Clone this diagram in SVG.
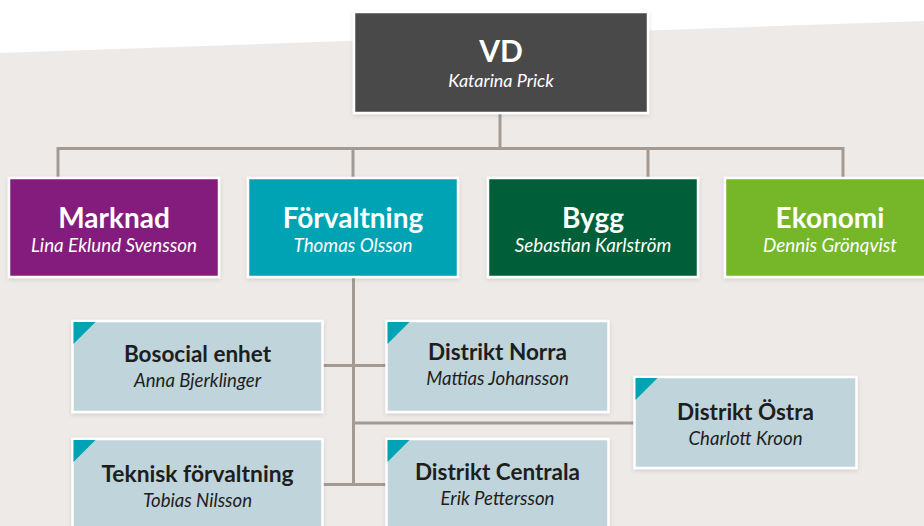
<svg xmlns="http://www.w3.org/2000/svg" width="924" height="526" viewBox="0 0 924 526">
  <style>
    .title { font-family: Lato, "Liberation Sans", sans-serif; font-weight: 700; text-anchor: middle; }
    .name { font-family: Lato, "Liberation Sans", sans-serif; font-style: italic; text-anchor: middle; }
    .light { fill: #ffffff; }
    .dark { fill: #1e1e1e; }
    .box { stroke: #ffffff; stroke-width: 2.5; filter: url(#shadow); }
    .unit { fill: #c0d4db; }
    .corner { fill: #00a3b4; }
    .link { fill: none; stroke: #a39a93; stroke-width: 3; }
  </style>
  <defs>
    <filter id="shadow" x="-10%" y="-10%" width="120%" height="130%">
      <feDropShadow dx="0" dy="1.5" stdDeviation="2" flood-color="#000000" flood-opacity="0.12"/>
    </filter>
  </defs>

  <!-- page background -->
  <rect x="0" y="0" width="924" height="526" fill="#ffffff"/>
  <polygon points="0,53 924,21 924,526 0,526" fill="#eeeae7"/>

  <!-- connectors -->
  <g id="connectors">
    <path class="link" d="M500,113 V148.5 M58,177 V148.5 H843 V177 M353,148.5 V177 M648,148.5 V177"/>
    <path class="link" d="M353.5,278 V485 M323,365.5 H386 M323,484.5 H386 M353.5,423 H634"/>
  </g>

  <!-- top level -->
  <g id="vd">
    <rect class="box" x="354" y="12" width="294" height="101" fill="#4a4a48"/>
    <text class="title light" x="501" y="62" font-size="30">VD</text>
    <text class="name light" x="501" y="86.5" font-size="18">Katarina Prick</text>
  </g>

  <!-- departments -->
  <g id="marknad">
    <rect class="box" x="9" y="178" width="210" height="99" fill="#831a7d"/>
    <text class="title light" x="114" y="228" font-size="28">Marknad</text>
    <text class="name light" x="114" y="252" font-size="18.8">Lina Eklund Svensson</text>
  </g>
  <g id="forvaltning">
    <rect class="box" x="248" y="178" width="210" height="99" fill="#00a3b4"/>
    <text class="title light" x="353" y="228" font-size="28">Förvaltning</text>
    <text class="name light" x="353" y="252" font-size="18.8">Thomas Olsson</text>
  </g>
  <g id="bygg">
    <rect class="box" x="488" y="178" width="210" height="99" fill="#005f38"/>
    <text class="title light" x="593" y="228" font-size="28">Bygg</text>
    <text class="name light" x="593" y="252" font-size="18.8">Sebastian Karlström</text>
  </g>
  <g id="ekonomi">
    <rect class="box" x="725" y="178" width="210" height="99" fill="#76b72a"/>
    <text class="title light" x="830" y="228" font-size="28">Ekonomi</text>
    <text class="name light" x="830" y="252" font-size="18.8">Dennis Grönqvist</text>
  </g>

  <!-- units under Förvaltning -->
  <g id="bosocial">
    <rect class="box unit" x="72.5" y="321" width="250" height="91"/>
    <polygon class="corner" points="73.5,322 95.5,322 73.5,344"/>
    <text class="title dark" x="197.5" y="361.5" font-size="22.5">Bosocial enhet</text>
    <text class="name dark" x="197.5" y="386.5" font-size="18.6">Anna Bjerklinger</text>
  </g>
  <g id="teknisk">
    <rect class="box unit" x="72.5" y="439" width="250" height="100"/>
    <polygon class="corner" points="73.5,440 95.5,440 73.5,462"/>
    <text class="title dark" x="197.5" y="481.5" font-size="22.8">Teknisk förvaltning</text>
    <text class="name dark" x="197.5" y="506.5" font-size="18.6">Tobias Nilsson</text>
  </g>
  <g id="norra">
    <rect class="box unit" x="386.5" y="321" width="222" height="91"/>
    <polygon class="corner" points="387.5,322 409.5,322 387.5,344"/>
    <text class="title dark" x="497.5" y="360" font-size="22.5">Distrikt Norra</text>
    <text class="name dark" x="497.5" y="385" font-size="18.6">Mattias Johansson</text>
  </g>
  <g id="centrala">
    <rect class="box unit" x="386.5" y="439" width="222" height="100"/>
    <polygon class="corner" points="387.5,440 409.5,440 387.5,462"/>
    <text class="title dark" x="497.5" y="480" font-size="22.5">Distrikt Centrala</text>
    <text class="name dark" x="497.5" y="505" font-size="18.6">Erik Pettersson</text>
  </g>
  <g id="ostra">
    <rect class="box unit" x="634.5" y="377" width="222" height="91"/>
    <polygon class="corner" points="635.5,378 657.5,378 635.5,400"/>
    <text class="title dark" x="745.5" y="420" font-size="22.5">Distrikt Östra</text>
    <text class="name dark" x="745.5" y="445" font-size="18.6">Charlott Kroon</text>
  </g>
</svg>
